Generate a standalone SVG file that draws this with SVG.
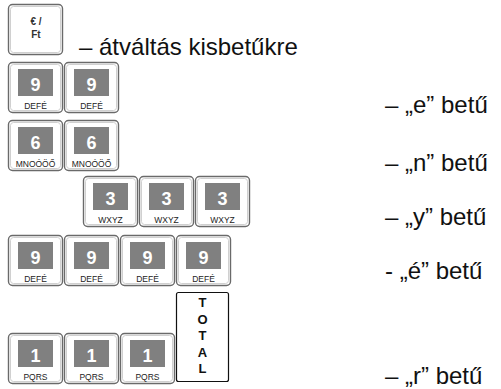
<svg xmlns="http://www.w3.org/2000/svg" width="501" height="389" viewBox="0 0 501 389">
<defs>
<style>
.ko{fill:#fff;stroke:#6a6a6a;stroke-width:1.4}
.ki{fill:none;stroke:#c4c4c4;stroke-width:0.8}
.sq{fill:#808080}
.dg{font-family:"Liberation Sans",Arial,sans-serif;font-weight:bold;font-size:18px;fill:#fff;text-anchor:middle}
.lb{font-family:"Liberation Sans",Arial,sans-serif;font-size:8.5px;fill:#222;text-anchor:middle}
.tx{font-family:"Liberation Sans",Arial,sans-serif;font-size:24px;fill:#111}
.tr{font-family:"Liberation Sans",Arial,sans-serif;font-size:24px;fill:#111}
.ft{font-family:"Liberation Sans",Arial,sans-serif;font-weight:bold;font-size:10px;fill:#333;text-anchor:middle}
.tt{font-family:"Liberation Sans",Arial,sans-serif;font-weight:bold;font-size:13px;fill:#111;text-anchor:middle}
</style>
<g id="key9">
<rect class="ko" x="0.5" y="0.5" width="54" height="50" rx="4"/>
<rect class="ki" x="2.5" y="2.5" width="50" height="46" rx="3"/>
<rect class="sq" x="10" y="7" width="35" height="27"/>
<text class="dg" x="27.5" y="29">9</text>
<text class="lb" x="27.5" y="47">DEFÉ</text>
</g>
<g id="key6">
<rect class="ko" x="0.5" y="0.5" width="54" height="50" rx="4"/>
<rect class="ki" x="2.5" y="2.5" width="50" height="46" rx="3"/>
<rect class="sq" x="10" y="7" width="35" height="27"/>
<text class="dg" x="27.5" y="29">6</text>
<text class="lb" x="27.5" y="47">MNOÓÖŐ</text>
</g>
<g id="key3">
<rect class="ko" x="0.5" y="0.5" width="54" height="50" rx="4"/>
<rect class="ki" x="2.5" y="2.5" width="50" height="46" rx="3"/>
<rect class="sq" x="10" y="7" width="35" height="27"/>
<text class="dg" x="27.5" y="29">3</text>
<text class="lb" x="27.5" y="47">WXYZ</text>
</g>
<g id="key1">
<rect class="ko" x="0.5" y="0.5" width="54" height="50" rx="4"/>
<rect class="ki" x="2.5" y="2.5" width="50" height="46" rx="3"/>
<rect class="sq" x="10" y="7" width="35" height="27"/>
<text class="dg" x="27.5" y="29">1</text>
<text class="lb" x="27.5" y="47">PQRS</text>
</g>
</defs>

<g id="keyEurFt">
<rect class="ko" x="8.5" y="4.5" width="54" height="50" rx="4"/>
<rect class="ki" x="10.5" y="6.5" width="50" height="46" rx="3"/>
<text class="ft" x="36" y="25">€ /</text>
<text class="ft" x="36" y="38">Ft</text>
</g>
<text class="tx" x="79" y="55">– átváltás kisbetűkre</text>

<g id="row-e">
<use href="#key9" x="8" y="62"/>
<use href="#key9" x="64" y="62"/>
</g>
<text class="tr" x="385" y="113">– „e” betű</text>

<g id="row-n">
<use href="#key6" x="8" y="120"/>
<use href="#key6" x="64" y="120"/>
</g>
<text class="tr" x="385" y="171">– „n” betű</text>

<g id="row-y">
<use href="#key3" x="83" y="176"/>
<use href="#key3" x="139" y="176"/>
<use href="#key3" x="195" y="176"/>
</g>
<text class="tr" x="385" y="225">– „y” betű</text>

<g id="row-e2">
<use href="#key9" x="8" y="235"/>
<use href="#key9" x="64" y="235"/>
<use href="#key9" x="120" y="235"/>
<use href="#key9" x="176" y="235"/>
</g>
<text class="tr" x="385" y="279">- „é” betű</text>

<g id="row-r">
<use href="#key1" x="8" y="333"/>
<use href="#key1" x="64" y="333"/>
<use href="#key1" x="120" y="333"/>
</g>
<g id="keyTotal">
<rect x="176.5" y="292.5" width="52" height="89" rx="2" fill="#fff" stroke="#111" stroke-width="1.2"/>
<text class="tt" x="202.5" y="307">T</text>
<text class="tt" x="202.5" y="323.5">O</text>
<text class="tt" x="202.5" y="340">T</text>
<text class="tt" x="202.5" y="356.5">A</text>
<text class="tt" x="202.5" y="373">L</text>
</g>
<text class="tr" x="385" y="384">– „r” betű</text>
<g id="connectors"/>
</svg>
